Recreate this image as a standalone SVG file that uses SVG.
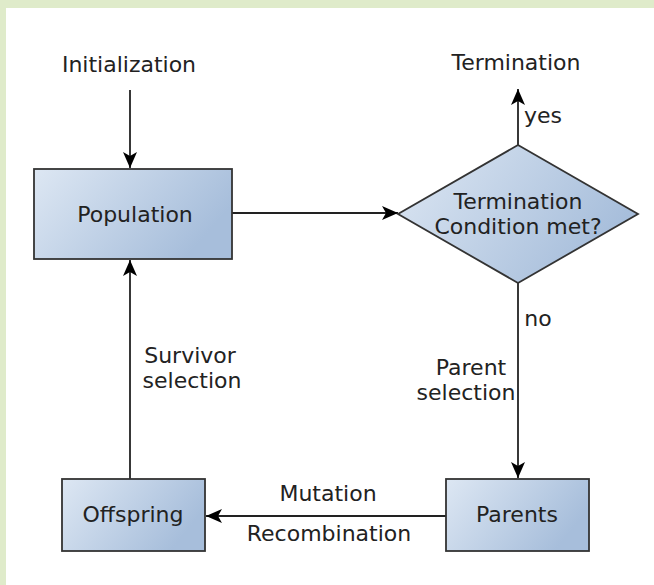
<svg xmlns="http://www.w3.org/2000/svg" width="654" height="585" viewBox="0 0 654 585">
<defs>
<linearGradient id="g" x1="0" y1="0" x2="1" y2="0.4">
<stop offset="0" stop-color="#dde7f3"/>
<stop offset="1" stop-color="#a7bedb"/>
</linearGradient>
<marker id="ah" markerWidth="18" markerHeight="16" refX="16" refY="7" orient="auto" markerUnits="userSpaceOnUse">
<path d="M0,0 L16,7 L0,14 L4,7 Z" fill="#000"/>
</marker>
<style>
.t{font-family:"DejaVu Sans",sans-serif;font-size:22px;fill:#222;text-anchor:middle}
.n{fill:url(#g);stroke:#333;stroke-width:1.8}
.c{fill:none;stroke:#222;stroke-width:1.8;marker-end:url(#ah)}
</style>
</defs>
<rect x="0" y="0" width="654" height="585" fill="#dfebca"/>
<rect x="6" y="8" width="648" height="577" fill="#fff"/>
<g id="connectors">
<path class="c" d="M130,90 V168"/>
<path class="c" d="M232,213 H398"/>
<path class="c" d="M518,145 V89"/>
<path class="c" d="M518,283 V478"/>
<path class="c" d="M446,516 H206"/>
<path class="c" d="M130,479 V260"/>
</g>
<g id="labels">
<text class="t" x="129" y="72">Initialization</text>
<text class="t" x="516" y="70">Termination</text>
<text class="t" x="543" y="123">yes</text>
<text class="t" x="538" y="326">no</text>
<text class="t" x="471" y="375">Parent</text>
<text class="t" x="466" y="400">selection</text>
<text class="t" x="190" y="363">Survivor</text>
<text class="t" x="192" y="388">selection</text>
<text class="t" x="328" y="501">Mutation</text>
<text class="t" x="329" y="541">Recombination</text>
</g>
<g id="population">
<rect class="n" x="34" y="169" width="198" height="90"/>
<text class="t" x="135" y="222">Population</text>
</g>
<g id="decision">
<polygon class="n" points="518,145 638,214 518,283 398,214"/>
<text class="t" x="518" y="209">Termination</text>
<text class="t" x="518" y="234">Condition met?</text>
</g>
<g id="parents">
<rect class="n" x="446" y="479" width="143" height="72"/>
<text class="t" x="517" y="522">Parents</text>
</g>
<g id="offspring">
<rect class="n" x="62" y="479" width="143" height="72"/>
<text class="t" x="133" y="522">Offspring</text>
</g>
</svg>
